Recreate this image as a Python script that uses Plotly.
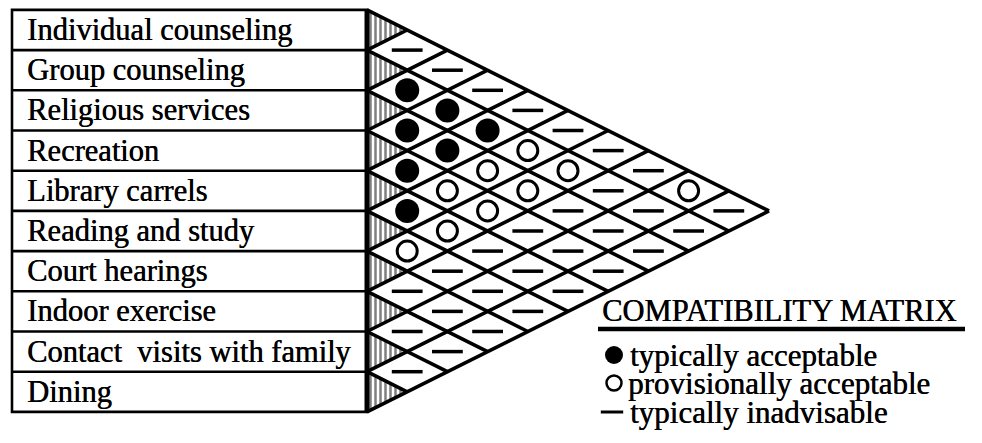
import plotly.graph_objects as go

# ---------------- data ----------------
activities = [
    "Individual counseling",
    "Group counseling",
    "Religious services",
    "Recreation",
    "Library carrels",
    "Reading and study",
    "Court hearings",
    "Indoor exercise",
    "Contact\u00a0 visits with family",
    "Dining",
]

# ratings of each activity against every activity listed below it
# A = typically acceptable, P = provisionally acceptable, X = typically inadvisable
ratings_individual_counseling = ["X", "X", "X", "X", "X", "X", "X", "P", "X"]
ratings_group_counseling      = ["A", "A", "A", "P", "P", "X", "X", "X"]
ratings_religious_services    = ["A", "A", "P", "P", "X", "X", "X"]
ratings_recreation            = ["A", "P", "P", "X", "X", "X"]
ratings_library_carrels       = ["A", "P", "X", "X", "X"]
ratings_reading_and_study     = ["P", "X", "X", "X"]
ratings_court_hearings        = ["X", "X", "X"]
ratings_indoor_exercise       = ["X", "X"]
ratings_contact_visits        = ["X"]

ratings = [
    ratings_individual_counseling, ratings_group_counseling, ratings_religious_services,
    ratings_recreation, ratings_library_carrels, ratings_reading_and_study,
    ratings_court_hearings, ratings_indoor_exercise, ratings_contact_visits,
]

legend_title = "COMPATIBILITY MATRIX"
legend_codes = ["A", "P", "X"]
legend_labels = ["typically acceptable", "provisionally acceptable", "typically inadvisable"]

# ---------------- layout constants ----------------
# the page body has an 8px margin, so the figure starts at (8, 8) of the window
OFF = 8
W, H = 982 - 2 * OFF, 443 - 2 * OFF
PX0, PY0, UNIT = 367.0, 30.0, 40.2
FONT = "Liberation Serif, Times New Roman, serif"
SHADOW = "0.5px 0px 0px black"
n = len(activities)

def dx(px):
    return (px - PX0) / UNIT

def dy(py):
    return (py - PY0) / UNIT

fig = go.Figure()

# hatched triangles at the start of each row
hx, hy = [], []
for i in range(n):
    hx += [0, 0, 1, 0, None]
    hy += [i - 0.5, i + 0.5, i, i - 0.5, None]
fig.add_trace(go.Scatter(
    x=hx, y=hy, mode="lines", fill="toself",
    line=dict(color="black", width=0.8),
    fillcolor="white",
    fillpattern=dict(shape="|", size=5, solidity=0.5, fgcolor="black", bgcolor="white"),
    hoverinfo="skip", showlegend=False))

# diagonal grid lines from each row boundary
gx, gy = [], []
for k in range(n + 1):
    y0 = k - 0.5
    gx += [0, n - k, None]
    gy += [y0, y0 + (n - k) / 2, None]
    gx += [0, k, None]
    gy += [y0, y0 - k / 2, None]
fig.add_trace(go.Scatter(x=gx, y=gy, mode="lines",
                         line=dict(color="black", width=3.6),
                         hoverinfo="skip", showlegend=False))

# cell symbols
style = {
    "A": dict(symbol="circle", size=24, color="black", line=dict(width=0, color="black")),
    "P": dict(symbol="circle-open", size=20, color="black", line=dict(width=3, color="black")),
    "X": dict(symbol="line-ew", size=22, color="black", line=dict(width=3.5, color="black")),
}
for code in ["A", "P", "X"]:
    xs, ys = [], []
    for i, row in enumerate(ratings):
        for off, r in enumerate(row):
            j = i + 1 + off
            if r == code:
                xs.append(j - i)
                ys.append((i + j) / 2)
    fig.add_trace(go.Scatter(x=xs, y=ys, mode="markers", marker=style[code],
                             hoverinfo="skip", showlegend=False))

# label box
shapes = []
xl = dx(12)
shapes.append(dict(type="rect", x0=xl, x1=0, y0=-0.5, y1=n - 0.5,
                   line=dict(color="black", width=2.6), xref="x", yref="y"))
for k in range(1, n):
    shapes.append(dict(type="line", x0=xl, x1=0, y0=k - 0.5, y1=k - 0.5,
                       line=dict(color="black", width=2.6), xref="x", yref="y"))
shapes.append(dict(type="line", x0=0, x1=0, y0=-0.5, y1=n - 0.5,
                   line=dict(color="black", width=5), xref="x", yref="y"))

annotations = []
for i, a in enumerate(activities):
    annotations.append(dict(x=dx(25), y=i, xref="x", yref="y", text=a,
                            showarrow=False, xanchor="left", yanchor="middle",
                            font=dict(family=FONT, size=30.5, color="black", shadow=SHADOW)))

# legend
annotations.append(dict(x=dx(600), y=dy(311), xref="x", yref="y", text=legend_title,
                        showarrow=False, xanchor="left", yanchor="middle",
                        font=dict(family=FONT, size=30.5, color="black", shadow=SHADOW)))
shapes.append(dict(type="line", x0=dx(598), x1=dx(965), y0=dy(329), y1=dy(329),
                   line=dict(color="black", width=4.5), xref="x", yref="y"))
leg_style = {
    "A": dict(symbol="circle", size=18, color="black"),
    "P": dict(symbol="circle-open", size=15, color="black", line=dict(width=2.5, color="black")),
    "X": dict(symbol="line-ew", size=16, color="black", line=dict(width=3, color="black")),
}
leg_y = [355, 383, 412]
leg_sym_x = [614, 614, 612]
leg_txt_x = [628, 626, 628]
for code, lab, py, sx, tx in zip(legend_codes, legend_labels, leg_y, leg_sym_x, leg_txt_x):
    fig.add_trace(go.Scatter(x=[dx(sx)], y=[dy(py)], mode="markers", marker=leg_style[code],
                             hoverinfo="skip", showlegend=False))
    annotations.append(dict(x=dx(tx), y=dy(py), xref="x", yref="y", text=lab,
                            showarrow=False, xanchor="left", yanchor="middle",
                            font=dict(family=FONT, size=31, color="black", shadow=SHADOW)))

fig.update_layout(
    width=W, height=H,
    margin=dict(l=0, r=0, t=0, b=0),
    paper_bgcolor="white", plot_bgcolor="white",
    xaxis=dict(range=[dx(OFF), dx(OFF + W)], visible=False, fixedrange=True),
    yaxis=dict(range=[dy(OFF + H), dy(OFF)], visible=False, fixedrange=True),
    shapes=shapes, annotations=annotations, showlegend=False,
)

fig.write_html("out.html")
